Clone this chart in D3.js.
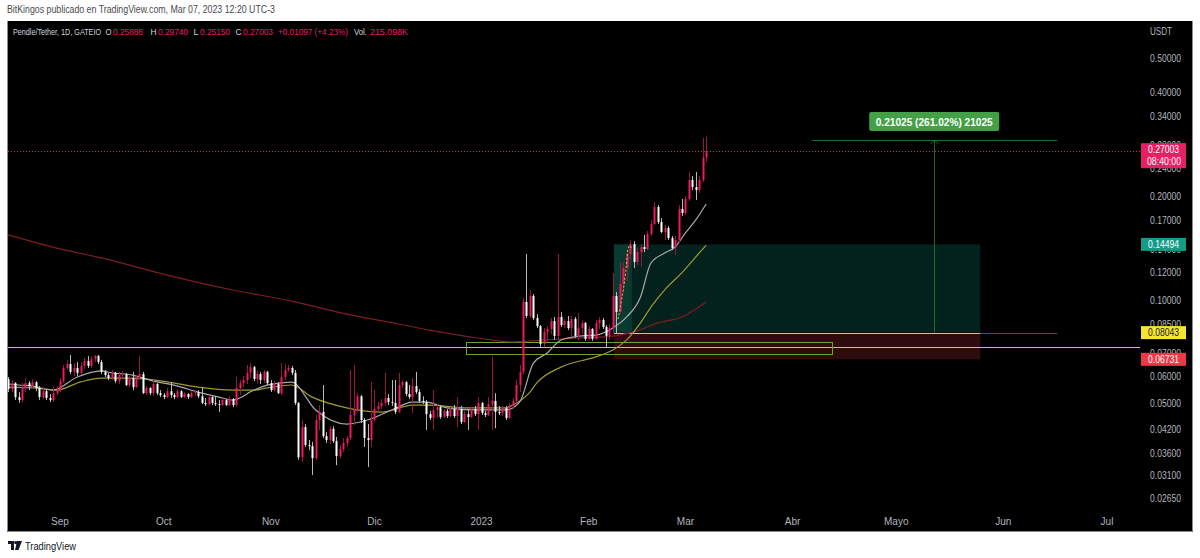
<!DOCTYPE html>
<html>
<head>
<meta charset="utf-8">
<script src="https://cdn.jsdelivr.net/npm/d3@7"></script>
<style>
body { margin: 0; background: #fff; }
svg { display: block; }
text { font-family: "Liberation Sans", Arial, sans-serif; }
</style>
</head>
<body>
<div id="chart"></div>
<script>
// daily candles, Pendle/Tether GATEIO, starting 2022-08-17; open = previous close
var startDate = "2022-08-17";
var firstOpen = 0.0590;
var closes = [
  0.0552,0.0574,0.0523,0.0513,0.0556,0.0574,0.0563,0.0578,0.0556,0.0523,
  0.0544,0.0520,0.0513,0.0537,0.0548,0.0582,0.0635,0.0652,0.0619,0.0635,
  0.0615,0.0644,0.0666,0.0644,0.0675,0.0688,0.0661,0.0619,0.0606,0.0594,
  0.0615,0.0582,0.0606,0.0610,0.0567,0.0594,0.0559,0.0598,0.0610,0.0537,
  0.0556,0.0537,0.0571,0.0537,0.0530,0.0523,0.0544,0.0530,0.0523,0.0544,
  0.0523,0.0534,0.0523,0.0537,0.0541,0.0526,0.0503,0.0499,0.0523,0.0503,
  0.0499,0.0496,0.0513,0.0496,0.0516,0.0496,0.0556,0.0574,0.0586,0.0615,
  0.0639,0.0590,0.0610,0.0586,0.0619,0.0574,0.0548,0.0571,0.0537,0.0598,
  0.0627,0.0635,0.0615,0.0503,0.0350,0.0428,0.0380,0.0377,0.0348,0.0449,
  0.0474,0.0403,0.0393,0.0423,0.0390,0.0353,0.0370,0.0385,0.0398,0.0464,
  0.0480,0.0526,0.0449,0.0398,0.0393,0.0449,0.0483,0.0493,0.0503,0.0520,
  0.0506,0.0503,0.0474,0.0567,0.0578,0.0534,0.0523,0.0563,0.0541,0.0510,
  0.0506,0.0467,0.0455,0.0480,0.0489,0.0458,0.0477,0.0461,0.0483,0.0461,
  0.0483,0.0443,0.0467,0.0458,0.0483,0.0467,0.0503,0.0470,0.0464,0.0499,
  0.0510,0.0474,0.0470,0.0486,0.0455,0.0493,0.0510,0.0567,0.0619,0.0987,
  0.0899,0.1027,0.0887,0.0840,0.0746,0.0807,0.0824,0.0869,0.0787,0.0893,
  0.0846,0.0869,0.0829,0.0881,0.0787,0.0829,0.0858,0.0771,0.0824,0.0771,
  0.0858,0.0875,0.0835,0.0787,0.0829,0.1027,0.0923,0.1113,0.1238,0.1359,
  0.1453,0.1289,0.1377,0.1424,0.1405,0.1553,0.1660,0.1860,0.1682,0.1574,
  0.1616,0.1512,0.1414,0.1492,0.1835,0.1787,0.1962,0.2227,0.2125,0.2083,
  0.2227,0.25888,0.27003
];
var highs = [
  0.0598,0.0586,0.0578,0.0541,0.0574,0.0594,0.0582,0.0590,0.0582,0.0563,
  0.0559,0.0552,0.0534,0.0563,0.0563,0.0594,0.0648,0.0670,0.0693,0.0657,
  0.0661,0.0661,0.0679,0.0688,0.0688,0.0693,0.0693,0.0670,0.0627,0.0615,
  0.0627,0.0619,0.0619,0.0623,0.0615,0.0602,0.0619,0.0606,0.0688,0.0619,
  0.0563,0.0559,0.0586,0.0574,0.0548,0.0537,0.0556,0.0578,0.0537,0.0552,
  0.0548,0.0541,0.0537,0.0544,0.0548,0.0548,0.0559,0.0520,0.0530,0.0526,
  0.0526,0.0513,0.0520,0.0516,0.0526,0.0520,0.0598,0.0586,0.0602,0.0648,
  0.0657,0.0644,0.0623,0.0619,0.0627,0.0623,0.0586,0.0582,0.0578,0.0657,
  0.0652,0.0648,0.0644,0.0627,0.0506,0.0449,0.0437,0.0393,0.0388,0.0464,
  0.0496,0.0567,0.0414,0.0431,0.0431,0.0401,0.0380,0.0398,0.0403,0.0627,
  0.0648,0.0537,0.0530,0.0455,0.0437,0.0578,0.0548,0.0506,0.0516,0.0615,
  0.0534,0.0586,0.0586,0.0615,0.0586,0.0582,0.0567,0.0594,0.0619,0.0552,
  0.0526,0.0513,0.0477,0.0548,0.0499,0.0496,0.0483,0.0483,0.0489,0.0496,
  0.0523,0.0493,0.0477,0.0483,0.0489,0.0493,0.0523,0.0506,0.0477,0.0523,
  0.0684,0.0537,0.0493,0.0493,0.0493,0.0503,0.0520,0.0586,0.0648,0.1013,
  0.1359,0.1069,0.1041,0.0910,0.0846,0.0829,0.0840,0.0887,0.0893,0.1359,
  0.0923,0.0881,0.0899,0.0899,0.0893,0.0916,0.0875,0.0863,0.0840,0.0829,
  0.0875,0.0893,0.0887,0.0846,0.0852,0.1198,0.1055,0.1289,0.1289,0.1396,
  0.1492,0.1482,0.1414,0.1453,0.1543,0.1584,0.1705,0.1923,0.1885,0.1728,
  0.1649,0.1638,0.1533,0.1533,0.1885,0.1962,0.2002,0.2349,0.2288,0.2349,
  0.2288,0.2950,0.2974
];
var lows = [
  0.0541,0.0541,0.0513,0.0503,0.0506,0.0541,0.0548,0.0556,0.0544,0.0513,
  0.0516,0.0513,0.0506,0.0506,0.0530,0.0541,0.0574,0.0627,0.0610,0.0602,
  0.0602,0.0606,0.0631,0.0635,0.0635,0.0661,0.0652,0.0610,0.0598,0.0586,
  0.0586,0.0574,0.0571,0.0594,0.0563,0.0559,0.0548,0.0556,0.0586,0.0534,
  0.0530,0.0530,0.0526,0.0530,0.0523,0.0516,0.0520,0.0520,0.0516,0.0520,
  0.0520,0.0520,0.0516,0.0520,0.0526,0.0520,0.0499,0.0493,0.0496,0.0496,
  0.0493,0.0474,0.0493,0.0493,0.0493,0.0489,0.0493,0.0530,0.0559,0.0571,
  0.0594,0.0582,0.0574,0.0571,0.0574,0.0567,0.0541,0.0544,0.0534,0.0530,
  0.0586,0.0619,0.0606,0.0496,0.0344,0.0339,0.0375,0.0367,0.0311,0.0344,
  0.0420,0.0398,0.0385,0.0383,0.0385,0.0332,0.0348,0.0362,0.0375,0.0393,
  0.0434,0.0474,0.0440,0.0375,0.0328,0.0375,0.0443,0.0474,0.0483,0.0493,
  0.0496,0.0493,0.0467,0.0470,0.0556,0.0526,0.0516,0.0470,0.0534,0.0503,
  0.0499,0.0420,0.0449,0.0420,0.0455,0.0452,0.0455,0.0455,0.0458,0.0455,
  0.0428,0.0437,0.0440,0.0420,0.0455,0.0461,0.0420,0.0464,0.0458,0.0461,
  0.0420,0.0425,0.0464,0.0461,0.0449,0.0452,0.0486,0.0503,0.0541,0.0610,
  0.0887,0.0887,0.0875,0.0829,0.0730,0.0730,0.0756,0.0796,0.0766,0.0766,
  0.0835,0.0829,0.0818,0.0787,0.0776,0.0766,0.0796,0.0761,0.0766,0.0761,
  0.0766,0.0824,0.0824,0.0730,0.0766,0.0802,0.0802,0.0910,0.1048,0.1135,
  0.1306,0.1238,0.1263,0.1246,0.1377,0.1396,0.1533,0.1649,0.1660,0.1563,
  0.1492,0.1492,0.1396,0.1350,0.1462,0.1751,0.1763,0.1936,0.2083,0.1949,
  0.2042,0.2197,0.2515
];

// moving averages
var fastMa = [
  ["2022-08-17",0.0571],["2022-08-20",0.0567],["2022-08-24",0.0563],["2022-08-30",0.0548],
  ["2022-09-06",0.0598],["2022-09-13",0.0623],["2022-09-16",0.0615],["2022-09-22",0.0606],
  ["2022-09-27",0.0586],["2022-10-05",0.0563],["2022-10-11",0.0541],["2022-10-17",0.0523],
  ["2022-10-21",0.0513],["2022-10-23",0.0520],["2022-10-26",0.0541],["2022-10-30",0.0563],
  ["2022-11-04",0.0575],["2022-11-07",0.0578],["2022-11-14",0.0480],["2022-11-23",0.0437],
  ["2022-11-29",0.0449],["2022-12-06",0.0480],["2022-12-12",0.0506],["2022-12-16",0.0506],
  ["2022-12-22",0.0487],["2022-12-31",0.0480],["2023-01-08",0.0480],["2023-01-12",0.0506],
  ["2023-01-16",0.0656],["2023-01-20",0.0702],["2023-01-24",0.0766],["2023-01-29",0.0785],
  ["2023-02-03",0.0791],["2023-02-08",0.0830],["2023-02-12",0.0893],["2023-02-16",0.1020],
  ["2023-02-19",0.1280],["2023-02-23",0.1368],["2023-02-26",0.1424],["2023-03-01",0.1564],
  ["2023-03-04",0.1706],["2023-03-07",0.1898]
];
var slowMa = [
  ["2022-08-17",0.0559],["2022-08-24",0.0556],["2022-08-31",0.0548],["2022-09-07",0.0579],
  ["2022-09-13",0.0594],["2022-09-22",0.0594],["2022-10-02",0.0579],["2022-10-11",0.0559],
  ["2022-10-21",0.0548],["2022-10-27",0.0548],["2022-10-31",0.0556],["2022-11-07",0.0567],
  ["2022-11-13",0.0523],["2022-11-23",0.0487],["2022-12-03",0.0473],["2022-12-12",0.0496],
  ["2022-12-17",0.0496],["2022-12-27",0.0487],["2023-01-08",0.0487],["2023-01-10",0.0496],
  ["2023-01-15",0.0541],["2023-01-17",0.0575],["2023-01-24",0.0639],["2023-02-03",0.0684],
  ["2023-02-08",0.0716],["2023-02-12",0.0766],["2023-02-16",0.0858],["2023-02-19",0.0954],
  ["2023-02-23",0.1070],["2023-02-28",0.1200],["2023-03-05",0.1369],["2023-03-07",0.1441]
];
var longMa = [
  ["2022-08-17",0.1544],["2022-09-01",0.1406],["2022-09-13",0.1324],["2022-10-02",0.1181],
  ["2022-10-21",0.1069],["2022-11-07",0.0993],["2022-11-24",0.0905],["2022-12-08",0.0852],
  ["2022-12-17",0.0818],["2022-12-31",0.0776],["2023-01-10",0.0756],["2023-01-20",0.0766],
  ["2023-01-29",0.0776],["2023-02-08",0.0786],["2023-02-14",0.0808],["2023-02-21",0.0858],
  ["2023-02-28",0.0893],["2023-03-07",0.0987]
];
var dashTrace = [
  ["2023-02-09T12:00",0.0880],["2023-02-10T06:00",0.0965],["2023-02-11T02:00",0.1080],
  ["2023-02-11T18:00",0.1210],["2023-02-12T08:00",0.1410],["2023-02-12T20:00",0.1440],
  ["2023-02-13T10:00",0.1410]
];

var priceTicks = [0.5,0.4,0.34,0.28,0.24,0.2,0.17,0.14,0.12,0.1,0.085,0.07,0.06,0.05,0.042,0.036,0.031,0.0265];
var monthDates = ["2022-09-01","2022-10-01","2022-11-01","2022-12-01","2023-01-01","2023-02-01","2023-03-01","2023-04-01","2023-05-01","2023-06-01","2023-07-01"];
var monthLabels = ["Sep","Oct","Nov","Dic","2023","Feb","Mar","Abr","Mayo","Jun","Jul"];

var lastPrice = 0.27003;
var entryPrice = 0.08043, targetPrice = 0.14494, stopPrice = 0.06731;
var positionDates = ["2023-02-08T07:00", "2023-02-13T12:00", "2023-05-25T08:00"];
var hLevel = 0.0731;
var zoneDates = ["2022-12-27T10:00", "2023-04-12T10:00"];
var zonePrices = [0.0756, 0.0698];
var measureDates = ["2023-04-06T16:00", "2023-05-12T00:00", "2023-06-16T14:00"];
var measurePrices = [0.08043, 0.29068];
var measureText = "0.21025 (261.02%) 21025";

var legendTexts = ["Pendle/Tether, 1D, GATEIO", "O", "0.25888", "H", "0.29740", "L", "0.25150",
  "C", "0.27003", "+0.01097 (+4.23%)", "Vol.", "215.098K"];
var legendIsValue = [false, false, true, false, true, false, true, false, true, true, false, true];

var svgWidth = 1200, svgHeight = 558;
var plotLeft = 8, plotRight = 1140, plotTop = 21, plotBottom = 510;
var upColor = "#f2185d", upWick = "#96183f", downColor = "#ffffff", downWick = "#b8b8b8";
var axisColor = "#b2b5be";
var legendX = [13, 105.5, 113, 150.5, 158, 193.5, 200, 235.5, 243, 278, 354, 370];
var legendW = [88, 6, 30, 6, 30, 5, 30, 6, 30, 70, 13, 38];
var legendSize = [9, 9, 9, 9, 9, 9, 9, 9, 9, 8.5, 9, 9];

var parse = function(s) { return new Date(s + (s.length > 10 ? ":00Z" : "T00:00:00Z")); };

var xScale = d3.scaleUtc()
  .domain([parse("2022-09-01"), parse("2023-07-01")])
  .range([60, 1107]);
var yScale = d3.scaleLog()
  .domain([0.1, 1])
  .range([300, -45]);

var start = parse(startDate);
var candles = closes.map(function(c, i) {
  return {
    date: d3.utcDay.offset(start, i),
    o: i === 0 ? firstOpen : closes[i - 1],
    h: highs[i], l: lows[i], c: c
  };
});

var svg = d3.select("#chart").append("svg")
  .attr("width", svgWidth)
  .attr("height", svgHeight);

svg.append("rect").attr("width", svgWidth).attr("height", svgHeight).attr("fill", "#fff");

svg.append("text")
  .attr("x", 7).attr("y", 13)
  .attr("font-size", 10.5)
  .attr("textLength", 268).attr("lengthAdjust", "spacingAndGlyphs")
  .attr("fill", "#4a4a4a")
  .text("BitKingos publicado en TradingView.com, Mar 07, 2023 12:20 UTC-3");

// panel
svg.append("rect")
  .attr("x", 7).attr("y", 21)
  .attr("width", 1186).attr("height", 511)
  .attr("fill", "#000");
svg.append("path")
  .attr("d", "M7.5,21V531.5H1192.5V21")
  .attr("fill", "none")
  .attr("stroke", "#8c8c8c");

svg.append("defs").append("clipPath").attr("id", "plotclip")
  .append("rect")
  .attr("x", plotLeft).attr("y", plotTop)
  .attr("width", plotRight - plotLeft).attr("height", plotBottom - plotTop);

var chartGroup = svg.append("g").attr("clip-path", "url(#plotclip)");

// position tool
var pd = positionDates.map(parse);
chartGroup.append("rect")
  .attr("x", xScale(pd[0])).attr("y", yScale(targetPrice))
  .attr("width", xScale(pd[2]) - xScale(pd[0]))
  .attr("height", yScale(entryPrice) - yScale(targetPrice))
  .attr("fill", "#03221d");
chartGroup.append("rect")
  .attr("x", xScale(pd[0])).attr("y", yScale(targetPrice))
  .attr("width", xScale(pd[1]) - xScale(pd[0]))
  .attr("height", yScale(entryPrice) - yScale(targetPrice))
  .attr("fill", "#083a32");
chartGroup.append("rect")
  .attr("x", xScale(pd[0])).attr("y", yScale(entryPrice))
  .attr("width", xScale(pd[2]) - xScale(pd[0]))
  .attr("height", yScale(stopPrice) - yScale(entryPrice))
  .attr("fill", "#2e0c0d");

// measure tool
var md = measureDates.map(parse);
var measureColor = "#1f6a2a";
measurePrices.forEach(function(p) {
  chartGroup.append("line")
    .attr("x1", xScale(md[0])).attr("x2", xScale(md[2]))
    .attr("y1", Math.round(yScale(p)) + 0.5).attr("y2", Math.round(yScale(p)) + 0.5)
    .attr("stroke", measureColor);
});
var ax = Math.round(xScale(md[1])) + 0.5;
var tipY = yScale(measurePrices[1]);
chartGroup.append("line")
  .attr("x1", ax).attr("x2", ax)
  .attr("y1", yScale(measurePrices[0])).attr("y2", tipY)
  .attr("stroke", measureColor);
chartGroup.append("path")
  .attr("d", "M" + (ax - 4) + "," + (tipY + 4) + "L" + ax + "," + tipY + "L" + (ax + 4) + "," + (tipY + 4))
  .attr("fill", "none").attr("stroke", measureColor);

// entry line
chartGroup.append("line")
  .attr("x1", xScale(pd[0])).attr("x2", xScale(pd[2]))
  .attr("y1", Math.round(yScale(entryPrice)) + 0.5).attr("y2", Math.round(yScale(entryPrice)) + 0.5)
  .attr("stroke", "#e0cf30");

// horizontal level + zone
chartGroup.append("line")
  .attr("x1", plotLeft).attr("x2", plotRight)
  .attr("y1", Math.round(yScale(hLevel)) + 0.5).attr("y2", Math.round(yScale(hLevel)) + 0.5)
  .attr("stroke", "#d8c834");
var zd = zoneDates.map(parse);
chartGroup.append("rect")
  .attr("x", Math.round(xScale(zd[0])) + 0.5).attr("y", Math.round(yScale(zonePrices[0])) + 0.5)
  .attr("width", Math.round(xScale(zd[1]) - xScale(zd[0])))
  .attr("height", Math.round(yScale(zonePrices[1]) - yScale(zonePrices[0])))
  .attr("fill", "none").attr("stroke", "#6fa23a");

// moving averages
var maLine = d3.line()
  .x(function(d) { return xScale(parse(d[0])); })
  .y(function(d) { return yScale(d[1]); })
  .curve(d3.curveMonotoneX);
chartGroup.append("path").datum(longMa).attr("d", maLine)
  .attr("fill", "none").attr("stroke", "#7e1c22").attr("stroke-width", 1.2);
chartGroup.append("path").datum(slowMa).attr("d", maLine)
  .attr("fill", "none").attr("stroke", "#9d9a2c").attr("stroke-width", 1.2);
chartGroup.append("path").datum(fastMa).attr("d", maLine)
  .attr("fill", "none").attr("stroke", "#a8aab0").attr("stroke-width", 1.2);

// candles
var gdots = chartGroup.selectAll("g.candle")
  .data(candles)
  .enter()
  .append("g")
  .attr("class", "candle");
gdots.append("line")
  .attr("x1", function(d) { return Math.round(xScale(d.date)) + 0.5; })
  .attr("x2", function(d) { return Math.round(xScale(d.date)) + 0.5; })
  .attr("y1", function(d) { return yScale(d.h); })
  .attr("y2", function(d) { return yScale(d.l); })
  .attr("stroke", function(d) { return d.c >= d.o ? upWick : downWick; });
gdots.append("rect")
  .attr("x", function(d) { return Math.round(xScale(d.date)) - 0.5; })
  .attr("width", 2)
  .attr("y", function(d) { return yScale(Math.max(d.o, d.c)); })
  .attr("height", function(d) { return Math.max(1, Math.abs(yScale(d.o) - yScale(d.c))); })
  .attr("fill", function(d) { return d.c >= d.o ? upColor : downColor; });

chartGroup.append("path").datum(dashTrace).attr("d", d3.line()
    .x(function(d) { return xScale(parse(d[0])); })
    .y(function(d) { return yScale(d[1]); }))
  .attr("fill", "none").attr("stroke", "#d8d030").attr("stroke-dasharray", "2,2");

// last price line
svg.append("line")
  .attr("x1", plotLeft).attr("x2", plotRight)
  .attr("y1", Math.round(yScale(lastPrice)) + 0.5).attr("y2", Math.round(yScale(lastPrice)) + 0.5)
  .attr("stroke", "#e91e63").attr("stroke-dasharray", "1,2");

// measure label
var mlx = xScale(md[1]);
svg.append("rect")
  .attr("x", mlx - 65).attr("y", 112)
  .attr("width", 130).attr("height", 19).attr("rx", 2)
  .attr("fill", "#43a047");
svg.append("text")
  .attr("x", mlx).attr("y", 125.5)
  .attr("text-anchor", "middle")
  .attr("font-size", 11).attr("font-weight", "bold")
  .attr("textLength", 117).attr("lengthAdjust", "spacingAndGlyphs")
  .attr("fill", "#fff")
  .text(measureText);

// legend
legendTexts.forEach(function(t, i) {
  svg.append("text")
    .attr("x", legendX[i]).attr("y", 35)
    .attr("font-size", legendSize[i])
    .attr("textLength", legendW[i]).attr("lengthAdjust", "spacingAndGlyphs")
    .attr("fill", legendIsValue[i] ? "#e91e63" : "#d1d4dc")
    .text(t);
});

// price axis
svg.append("text")
  .attr("x", 1150).attr("y", 35)
  .attr("font-size", 10.5).attr("fill", axisColor)
  .attr("textLength", 22).attr("lengthAdjust", "spacingAndGlyphs")
  .text("USDT");
svg.append("g").selectAll("text")
  .data(priceTicks)
  .enter()
  .append("text")
  .attr("x", 1150)
  .attr("y", function(d) { return yScale(d) + 3.5; })
  .attr("font-size", 10.5)
  .attr("textLength", 31).attr("lengthAdjust", "spacingAndGlyphs")
  .attr("fill", axisColor)
  .text(function(d) { return d.toFixed(5); });

// price labels
function priceTag(p, fill, color, extra) {
  var cy = yScale(p);
  var h = extra ? 25 : 13;
  var top = extra ? cy - 8 : cy - 6.5;
  svg.append("rect")
    .attr("x", 1141).attr("y", top)
    .attr("width", 45).attr("height", h)
    .attr("fill", fill);
  svg.append("text")
    .attr("x", 1148).attr("y", top + 10)
    .attr("font-size", 10.5).attr("fill", color)
    .attr("textLength", 31).attr("lengthAdjust", "spacingAndGlyphs")
    .text(p.toFixed(5));
  if (extra) {
    svg.append("text")
      .attr("x", 1147).attr("y", top + 21.5)
      .attr("font-size", 10.5).attr("fill", color)
      .attr("textLength", 34).attr("lengthAdjust", "spacingAndGlyphs")
      .text(extra);
  }
}
priceTag(lastPrice, "#e91e63", "#fff", "08:40:00");
priceTag(targetPrice, "#139c88", "#fff");
priceTag(entryPrice, "#f5e531", "#131722");
priceTag(stopPrice, "#f23645", "#fff");

// time axis
svg.append("g").selectAll("text")
  .data(monthDates)
  .enter()
  .append("text")
  .attr("x", function(d) { return xScale(parse(d)); })
  .attr("y", 525)
  .attr("text-anchor", "middle")
  .attr("font-size", 10)
  .attr("fill", axisColor)
  .text(function(d, i) { return monthLabels[i]; });

// footer
svg.append("path")
  .attr("d", "M8,541h6v9h-3v-6h-3z M17,541h5l-3.5,9h-3.5z")
  .attr("fill", "#131722");
svg.append("circle").attr("cx", 15.8).attr("cy", 542.6).attr("r", 1.6).attr("fill", "#131722");
svg.append("text")
  .attr("x", 25).attr("y", 549.5)
  .attr("font-size", 11)
  .attr("textLength", 51).attr("lengthAdjust", "spacingAndGlyphs")
  .attr("fill", "#131722")
  .text("TradingView");
</script>
</body>
</html>
